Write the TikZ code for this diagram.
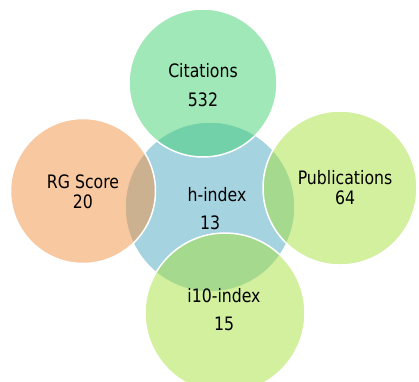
\documentclass[tikz,border=0pt]{standalone}
\usepackage{fontspec}
\setmainfont[FakeStretch=0.85]{DejaVu Sans}
\usepackage{xcolor}
\usepackage{tikz}

\definecolor{hblue}{RGB}{165,211,224}
\definecolor{citgreen}{RGB}{65,209,113}
\definecolor{limegreen}{RGB}{165,225,61}
\definecolor{rgorange}{RGB}{241,145,65}

\tikzset{
  ring/.style={circle, draw=white, line width=1.5pt, fill opacity=0.5, inner sep=0pt},
  label/.style={anchor=base, inner sep=0.75pt, font=\fontsize{18.5}{20}\selectfont},
}

\begin{document}
\begin{tikzpicture}[x=1pt,y=1pt,yscale=-1,xscale=1]
\useasboundingbox (0,0) rectangle (419,381);

%Shape: Circle [centre]
\node [circle, fill=hblue, draw=white, line width=1.5pt, minimum size=170pt] (hidx) at (210,207) {};
%Shape: Circle [top]
\node [ring, fill=citgreen, minimum size=148pt] (cit) at (203,83) {};
%Shape: Circle [left]
\node [ring, fill=rgorange, minimum size=145pt] (rg) at (83,191) {};
%Shape: Circle [right]
\node [ring, fill=limegreen, minimum size=154pt] (pub) at (340,188) {};
%Shape: Circle [bottom]
\node [ring, fill=limegreen, minimum size=160pt] (iten) at (225,313) {};

% Text Node
\node [label] (cit-name) at (203,77) {Citations};
% Text Node
\node [label] (cit-val) at (203,106) {532};
% Text Node
\node [label] (rg-name) at (83,188) {RG Score};
% Text Node
\node [label] (rg-val) at (83,208) {20};
% Text Node
\node [label] (pub-name) at (345,184) {Publications};
% Text Node
\node [label] (pub-val) at (345,204) {64};
% Text Node
\node [label] (hidx-name) at (217,201) {h-index};
% Text Node
\node [label] (hidx-val) at (210,229) {13};
% Text Node
\node [label] (iten-name) at (224,302) {i10-index};
% Text Node
\node [label] (iten-val) at (224,330) {15};
\end{tikzpicture}
\end{document}
